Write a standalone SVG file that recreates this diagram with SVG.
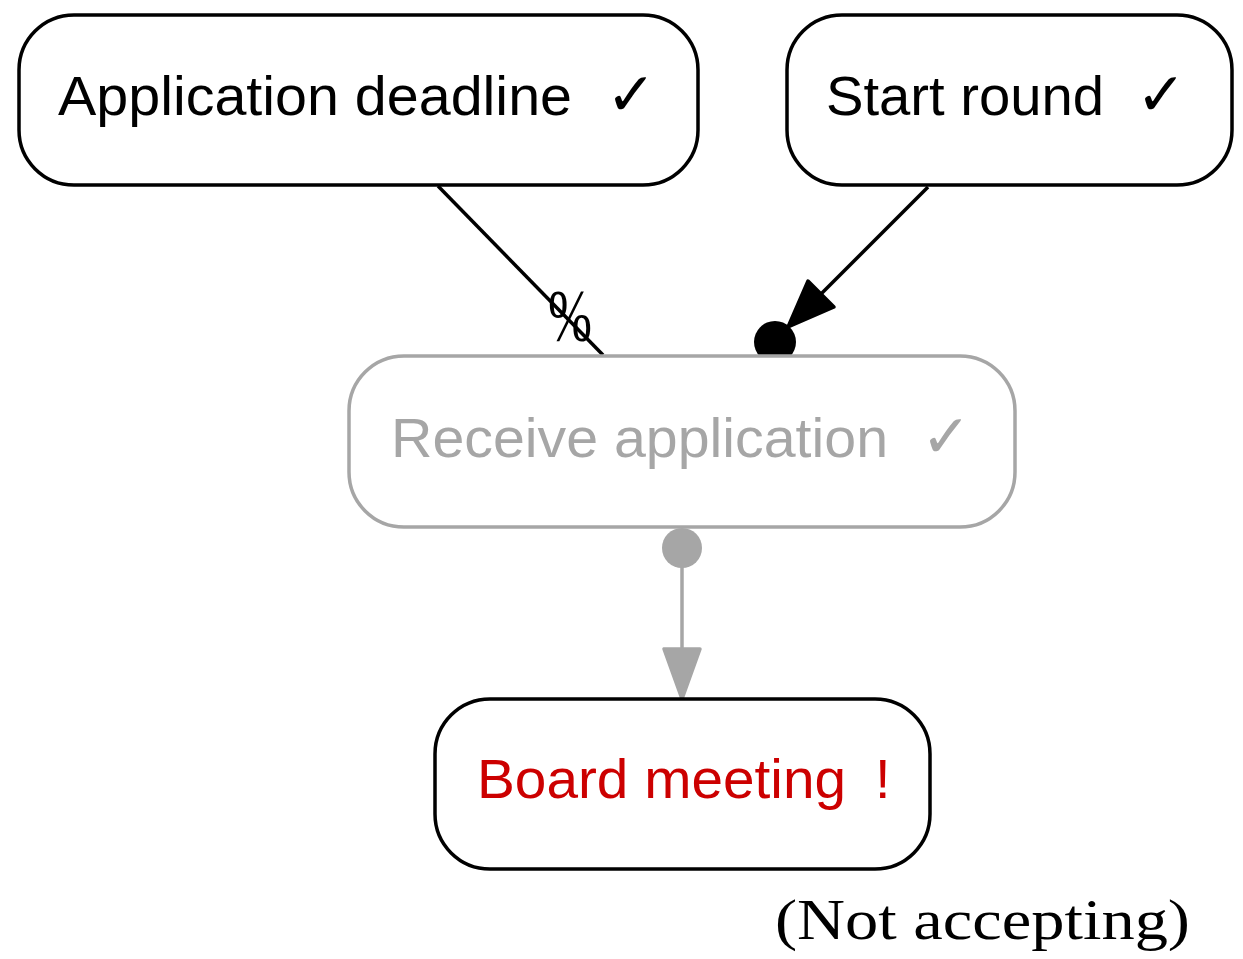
<svg xmlns="http://www.w3.org/2000/svg" width="1243" height="959" viewBox="0 0 1243 959">
<style>
.node{fill:#ffffff;stroke:#000000;stroke-width:3.5}
.gray{stroke:#a6a6a6}
.lbl{font-family:"Liberation Sans",Arial,sans-serif;font-size:56px;fill:#000000}
.sym{font-family:"DejaVu Sans","Liberation Sans",sans-serif;font-size:60px;font-weight:bold;fill:#000000}
.edge{fill:none;stroke:#000000;stroke-width:3.5}
</style>
<rect width="1243" height="959" fill="#ffffff"/>
<g id="connectors">
  <g id="e1">
    <line class="edge" x1="438" y1="186" x2="603" y2="355"/>
    <text x="570" y="341" text-anchor="middle" font-family="'Liberation Serif','Times New Roman',serif" font-size="74" textLength="44" lengthAdjust="spacingAndGlyphs">%</text>
  </g>
  <g id="e2">
    <line class="edge" x1="928" y1="187" x2="821" y2="294"/>
    <polygon points="808,281 834,307 788,327" fill="#000" stroke="#000" stroke-width="3.5" stroke-linejoin="round"/>
    <circle cx="775" cy="342" r="21" fill="#000"/>
  </g>
  <g id="e3">
    <circle cx="682" cy="548" r="20" fill="#a6a6a6"/>
    <line x1="682" y1="565" x2="682" y2="650" stroke="#a6a6a6" stroke-width="3.5"/>
    <polygon points="664,649 700,649 682,699" fill="#a6a6a6" stroke="#a6a6a6" stroke-width="3.5" stroke-linejoin="round"/>
  </g>
</g>
<g id="n_application_deadline">
  <rect class="node" x="19" y="15" width="679" height="170" rx="55" ry="55"/>
  <text class="lbl" x="58" y="115" textLength="514" lengthAdjust="spacingAndGlyphs">Application deadline</text>
  <text class="sym" x="606" y="115">✓</text>
</g>
<g id="n_start_round">
  <rect class="node" x="787" y="15" width="445" height="170" rx="55" ry="55"/>
  <text class="lbl" x="826" y="115" textLength="278" lengthAdjust="spacingAndGlyphs">Start round</text>
  <text class="sym" x="1136" y="115">✓</text>
</g>
<g id="n_receive_application">
  <rect class="node gray" x="349" y="356" width="666" height="171" rx="55" ry="55"/>
  <text class="lbl" x="391" y="457" style="fill:#a6a6a6" textLength="497" lengthAdjust="spacingAndGlyphs">Receive application</text>
  <text class="sym" x="921" y="457" style="fill:#a6a6a6;font-weight:normal">✓</text>
</g>
<g id="n_board_meeting">
  <rect class="node" x="435" y="699" width="495" height="170" rx="55" ry="55"/>
  <text class="lbl" x="477" y="798" style="fill:#cc0000" textLength="369" lengthAdjust="spacingAndGlyphs">Board meeting</text>
  <text class="lbl" x="875" y="798" style="fill:#cc0000">!</text>
</g>
<text x="775" y="939" font-family="'Liberation Serif','Times New Roman',serif" font-size="58" textLength="415" lengthAdjust="spacingAndGlyphs">(Not accepting)</text>
</svg>
